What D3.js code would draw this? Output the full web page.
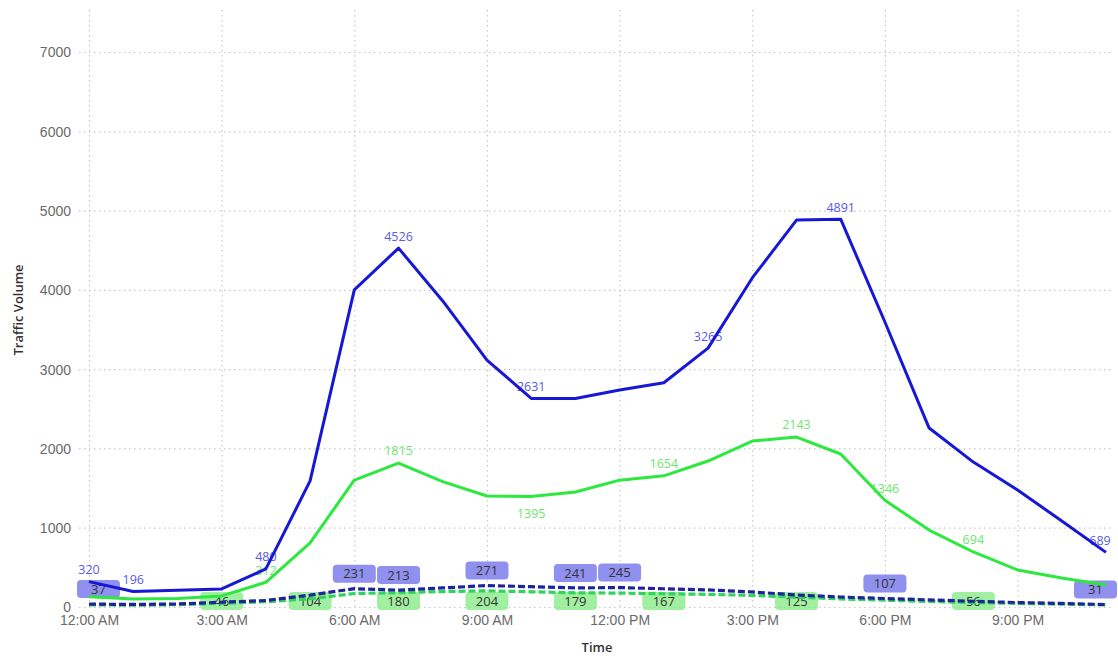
<!DOCTYPE html>
<html>
<head>
<meta charset="utf-8">
<script src="https://cdn.jsdelivr.net/npm/d3@7"></script>
<style>
  html, body { margin: 0; padding: 0; background: #fff; }
  svg { display: block; font-family: "Segoe UI", "Open Sans", "Noto Sans", sans-serif; }
</style>
</head>
<body>
<svg id="chart" width="1118" height="658"></svg>
<script>
// Hourly traffic volumes (hour 0 = 12:00 AM ... hour 23 = 11:00 PM)
const hours = d3.range(0, 24);
const carsTotal   = [320, 196, 210, 228, 480, 1590, 4000, 4526, 3860, 3115, 2631, 2630, 2736, 2829, 3265, 4150, 4880, 4891, 3595, 2257, 1828, 1476, 1085, 689];
const carsOther   = [128, 100, 108, 140, 312, 810, 1600, 1815, 1582, 1400, 1395, 1450, 1600, 1654, 1841, 2093, 2143, 1930, 1346, 970, 694, 467, 366, 278];
const trucksTotal = [37, 32, 38, 60, 82, 150, 231, 213, 240, 271, 256, 241, 245, 230, 215, 190, 152, 126, 107, 90, 72, 56, 45, 31];
const trucksOther = [28, 22, 30, 46, 66, 104, 170, 180, 195, 204, 192, 179, 175, 167, 160, 146, 125, 102, 86, 70, 56, 45, 36, 26];

// Which hours carry a value label on each series
const carsTotalLabelled   = [0, 1, 4, 7, 10, 14, 17, 23];
const carsOtherLabelled   = [4, 7, 10, 13, 16, 18, 20];
const carsOtherBelow      = [10];
const trucksTotalLabelled = [0, 6, 7, 9, 11, 12, 18, 23];
const trucksOtherLabelled = [3, 5, 7, 9, 11, 13, 16, 20];

const yTicks = [0, 1000, 2000, 3000, 4000, 5000, 6000, 7000];
const xTicks = [0, 3, 6, 9, 12, 15, 18, 21];
const xTickLabels = ["12:00 AM", "3:00 AM", "6:00 AM", "9:00 AM", "12:00 PM", "3:00 PM", "6:00 PM", "9:00 PM"];

const svg = d3.select("#chart");
const plotLeft = 77, plotRight = 1117;

const x = d3.scaleLinear().domain([0, 23]).range([89, 1106]);
const y = d3.scaleLinear().domain([0, 7000]).range([607, 52]);

// Dotted gridlines
const grid = svg.append("g").attr("class", "grid");
grid.selectAll("line.h").data(yTicks).join("line")
  .attr("x1", 79).attr("x2", 1112)
  .attr("y1", d => y(d) + 0.5).attr("y2", d => y(d) + 0.5)
  .attr("stroke", "#c8c8c8").attr("stroke-width", 1.2)
  .attr("stroke-dasharray", "1.5,3.5");
grid.selectAll("line.v").data(xTicks).join("line")
  .attr("x1", d => x(d) + 0.5).attr("x2", d => x(d) + 0.5)
  .attr("y1", 10).attr("y2", 607)
  .attr("stroke", "#c8c8c8").attr("stroke-width", 1.2)
  .attr("stroke-dasharray", "1.5,3.5");

// Y axis
const yAxis = svg.append("g")
  .attr("transform", "translate(71,0)")
  .call(d3.axisLeft(y).tickValues(yTicks).tickSize(0).tickPadding(0).tickFormat(d3.format("d")));
yAxis.select(".domain").remove();
yAxis.selectAll("text").attr("fill", "#6a6a6a").attr("font-size", 14).attr("dy", "0.35em");

// X axis
const xAxis = svg.append("g")
  .attr("transform", "translate(0,615)")
  .call(d3.axisBottom(x).tickValues(xTicks).tickSize(0).tickPadding(0)
    .tickFormat((d, i) => xTickLabels[i]));
xAxis.select(".domain").remove();
xAxis.selectAll("text").attr("fill", "#6a6a6a").attr("font-size", 14).attr("dy", "0.71em");

// Axis titles
svg.append("text")
  .attr("transform", "translate(23,310) rotate(-90)")
  .attr("text-anchor", "middle")
  .attr("font-size", 13).attr("font-weight", 600).attr("fill", "#333")
  .text("Traffic Volume");
svg.append("text")
  .attr("x", 597).attr("y", 652)
  .attr("text-anchor", "middle")
  .attr("font-size", 13).attr("font-weight", 600).attr("fill", "#333")
  .text("Time");

// Boxed labels for the lower (dashed) series
const boxW = 43, boxH = 18;
function boxedLabels(values, idx, fill, place) {
  const g = svg.append("g");
  const items = idx.map(i => {
    const px = x(hours[i]), py = y(values[i]);
    let cx = Math.max(plotLeft + boxW / 2, Math.min(plotRight - boxW / 2, px));
    let top = place === "above" ? py - 6 - boxH : Math.min(py + 2, 610 - boxH);
    return { cx, top, v: values[i] };
  });
  g.selectAll("rect").data(items).join("rect")
    .attr("x", d => d.cx - boxW / 2).attr("y", d => d.top)
    .attr("width", boxW).attr("height", boxH)
    .attr("rx", 4).attr("fill", fill);
  g.selectAll("text").data(items).join("text")
    .attr("x", d => d.cx).attr("y", d => d.top + boxH / 2)
    .attr("dy", "0.36em").attr("text-anchor", "middle")
    .attr("font-size", 13).attr("fill", "#333")
    .text(d => d.v);
}
boxedLabels(trucksTotal, trucksTotalLabelled, "rgba(120,120,235,0.82)", "above");
boxedLabels(trucksOther, trucksOtherLabelled, "rgba(130,235,130,0.75)", "below");

// Plain value labels for the solid series
function plainLabels(values, idx, color, below) {
  svg.append("g").selectAll("text").data(idx).join("text")
    .attr("x", i => Math.min(plotRight - 17, x(hours[i])))
    .attr("y", i => below.includes(i) ? y(values[i]) + 17 : y(values[i]) - 12)
    .attr("dy", "0.35em").attr("text-anchor", "middle")
    .attr("font-size", 12.5).attr("fill", color)
    .text(i => values[i]);
}
plainLabels(carsTotal, carsTotalLabelled, "#5a5ae8", []);
plainLabels(carsOther, carsOtherLabelled, "#6ee66e", carsOtherBelow);

// Lines
const line = vals => d3.line().x((d, i) => x(hours[i])).y(d => y(d))(vals);
svg.append("path").attr("d", line(trucksOther))
  .attr("fill", "none").attr("stroke", "#2fd45a").attr("stroke-width", 3.2)
  .attr("stroke-dasharray", "7,3");
svg.append("path").attr("d", line(trucksTotal))
  .attr("fill", "none").attr("stroke", "#1f249c").attr("stroke-width", 3.2)
  .attr("stroke-dasharray", "7,3");
svg.append("path").attr("d", line(carsOther))
  .attr("fill", "none").attr("stroke", "#2de83e").attr("stroke-width", 3)
  .attr("stroke-linejoin", "round");
svg.append("path").attr("d", line(carsTotal))
  .attr("fill", "none").attr("stroke", "#1717d6").attr("stroke-width", 3)
  .attr("stroke-linejoin", "round");
</script>
</body>
</html>
